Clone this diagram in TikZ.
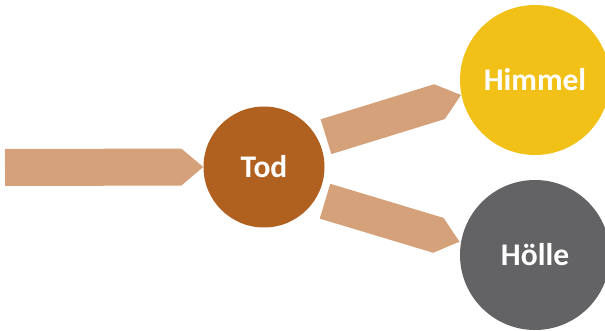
\documentclass[tikz,border=0pt]{standalone}
\usepackage{fontspec}
\setmainfont{Carlito}
\usetikzlibrary{calc}

\definecolor{arrowtan}{HTML}{D4A17A}
\definecolor{todbrown}{HTML}{B0601F}
\definecolor{himmelgold}{HTML}{F2C118}
\definecolor{hoellegrey}{HTML}{636365}

\tikzset{
  stage/.style={circle, inner sep=0pt, text=white, font=\bfseries\fontsize{31.5}{31.5}\selectfont},
  blockfill/.style={fill=arrowtan, draw=none},
}

% pentagon block arrow: from back midpoint #1 to tip #2, half width #3 (pt), tip length #4 (pt)
\newcommand\blockarrow[4]{%
  \path ($(#2)!#4pt!(#1)$) coordinate (#1-shoulder);
  \fill[blockfill] ($(#1)!#3pt!90:(#2)$) -- ($(#1-shoulder)!#3pt!90:(#2)$) -- (#2)
    -- ($(#1-shoulder)!#3pt!-90:(#2)$) -- ($(#1)!#3pt!-90:(#2)$) -- cycle;
}

\begin{document}
\begin{tikzpicture}[x=1pt, y=-1pt]
  \useasboundingbox (0,0) rectangle (605,331);

  \node[stage, fill=todbrown, minimum size=121pt] (tod) at (264,167) {Tod};
  \node[stage, fill=himmelgold, minimum size=150pt] (himmel) at (535,80) {Himmel};
  \node[stage, fill=hoellegrey, minimum size=150pt] (hoelle) at (535,255) {Hölle};

  % arrow ends
  \coordinate (inback) at (5,167.5);
  \coordinate (intip) at (tod.west);
  \coordinate (upback) at (326,136.7);
  \coordinate (uptip) at (461,95);
  \coordinate (downback) at (325,201.2);
  \coordinate (downtip) at (459.5,241.7);

  \blockarrow{inback}{intip}{18.5}{22}
  \blockarrow{upback}{uptip}{18.2}{22.5}
  \blockarrow{downback}{downtip}{18.2}{22}
\end{tikzpicture}
\end{document}
